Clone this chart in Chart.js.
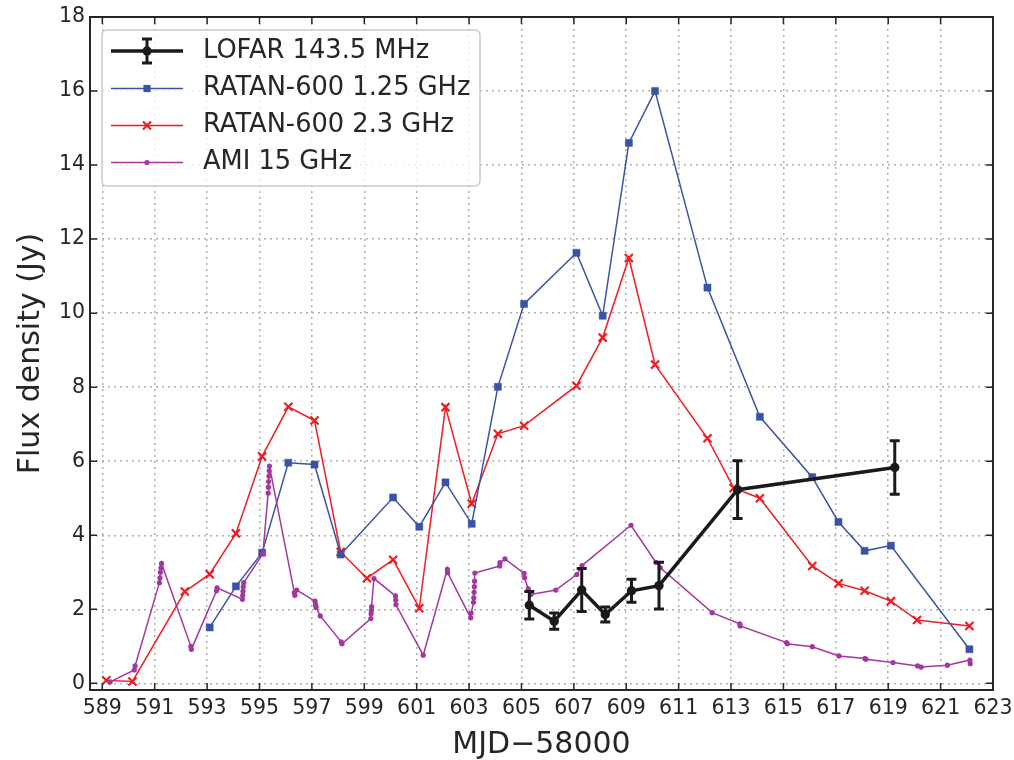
<!DOCTYPE html>
<html>
<head>
<meta charset="utf-8">
<script src="https://cdn.jsdelivr.net/npm/chart.js@4.4.0/dist/chart.umd.min.js"></script>
<style>
  body { margin: 0; background: #fff; }
  canvas { display: block; }
</style>
</head>
<body>
<canvas id="fluxChart" width="1014" height="760"></canvas>
<script>
// LOFAR 143.5 MHz (with errors)
let lofarDays = [605.3, 606.25, 607.3, 608.2, 609.2, 610.25, 613.25, 619.25];
let lofarFlux = [2.11, 1.68, 2.52, 1.86, 2.50, 2.64, 5.23, 5.83];
let lofarErr  = [0.37, 0.22, 0.58, 0.20, 0.31, 0.63, 0.78, 0.72];

// RATAN-600 1.25 GHz
let ratan1Days = [593.1, 594.1, 595.1, 596.1, 597.1, 598.1, 600.1, 601.1, 602.1, 603.1, 604.1, 605.1,
                  607.1, 608.1, 609.1, 610.1, 612.1, 614.1, 616.1, 617.1, 618.1, 619.1, 622.1];
let ratan1Flux = [1.51, 2.62, 3.53, 5.96, 5.91, 3.48, 5.02, 4.23, 5.43, 4.31, 8.01, 10.25,
                  11.63, 9.93, 14.6, 16.0, 10.69, 7.2, 5.57, 4.36, 3.58, 3.72, 0.92];

// RATAN-600 2.3 GHz
let ratan2Days = [589.15, 590.15, 592.15, 593.1, 594.1, 595.1, 596.1, 597.1, 598.1, 599.1, 600.1, 601.1,
                  602.1, 603.1, 604.1, 605.1, 607.1, 608.1, 609.1, 610.1, 612.1, 613.1, 614.1, 616.1,
                  617.1, 618.1, 619.1, 620.1, 622.1];
let ratan2Flux = [0.08, 0.05, 2.48, 2.95, 4.05, 6.13, 7.47, 7.10, 3.55, 2.84, 3.34, 2.03,
                  7.46, 4.85, 6.74, 6.96, 8.04, 9.34, 11.49, 8.61, 6.62, 5.28, 5.0, 3.17,
                  2.70, 2.50, 2.22, 1.71, 1.55];

// AMI 15 GHz
let amiDays = [589.3, 590.22, 590.25,
               591.18, 591.2, 591.22, 591.24, 591.26,
               592.38, 592.4,
               593.36, 593.38,
               594.35, 594.36, 594.37, 594.38, 594.4,
               595.13,
               595.33, 595.34, 595.35, 595.36, 595.37, 595.38,
               596.33, 596.35, 596.42,
               597.12, 597.14, 597.16, 597.32,
               598.12, 598.15,
               599.25, 599.26, 599.27, 599.28, 599.37,
               600.19, 600.2, 600.21,
               601.25,
               602.17, 602.18,
               603.06, 603.08, 603.17, 603.18, 603.19, 603.2, 603.21, 603.22,
               604.17, 604.18, 604.37,
               605.1, 605.12, 605.26, 605.36,
               606.31,
               607.11, 607.31,
               609.18,
               610.13, 610.3,
               612.28,
               613.33, 613.35,
               615.12, 615.15,
               616.1,
               617.12,
               618.11, 618.15,
               619.18,
               620.12, 620.26,
               621.26,
               622.12, 622.13];
let amiFlux = [0.04, 0.36, 0.47,
               2.72, 2.85, 3.0, 3.12, 3.24,
               1.0, 0.92,
               2.50, 2.58,
               2.27, 2.38, 2.49, 2.61, 2.72,
               3.5,
               5.14, 5.3, 5.45, 5.6, 5.74, 5.87,
               2.45, 2.38, 2.52,
               2.22, 2.12, 2.05, 1.82,
               1.12, 1.07,
               1.75, 1.88, 1.97, 2.07, 2.83,
               2.36, 2.25, 2.13,
               0.76,
               3.08, 2.99,
               1.77, 1.9, 2.19, 2.31, 2.46, 2.61, 2.76, 2.98,
               3.17, 3.26, 3.36,
               2.97, 2.85, 2.55, 2.40,
               2.52,
               2.94, 3.18,
               4.27,
               3.27, 3.12,
               1.91,
               1.61, 1.55,
               1.10, 1.07,
               0.99,
               0.74,
               0.67, 0.65,
               0.56,
               0.47, 0.44,
               0.49,
               0.63, 0.53];

let xTicks = [589, 591, 593, 595, 597, 599, 601, 603, 605, 607, 609, 611, 613, 615, 617, 619, 621, 623];
let yTicks = [0, 2, 4, 6, 8, 10, 12, 14, 16, 18];

let lofarColor = "#1a1a1a";
let ratan1Color = "#3a53a4";
let ratan2Color = "#ee1d23";
let amiColor = "#a4379f";
let textColor = "#262626";
let fontName = "'DejaVu Sans', sans-serif";

function toPoints(xs, ys) {
    let pts = [];
    for (let i = 0; i < xs.length; i++) {
        pts.push({ x: xs[i], y: ys[i] });
    }
    return pts;
}

// error bars for the LOFAR points
const errorBars = {
    id: "errorBars",
    afterDatasetsDraw(chart) {
        let ctx = chart.ctx;
        let xs = chart.scales.x, ys = chart.scales.y;
        ctx.save();
        ctx.strokeStyle = lofarColor;
        ctx.lineWidth = 3;
        for (let i = 0; i < lofarDays.length; i++) {
            let px = xs.getPixelForValue(lofarDays[i]);
            let top = ys.getPixelForValue(lofarFlux[i] + lofarErr[i]);
            let bot = ys.getPixelForValue(lofarFlux[i] - lofarErr[i]);
            ctx.beginPath();
            ctx.moveTo(px, top); ctx.lineTo(px, bot);
            ctx.moveTo(px - 5, top); ctx.lineTo(px + 5, top);
            ctx.moveTo(px - 5, bot); ctx.lineTo(px + 5, bot);
            ctx.stroke();
        }
        ctx.restore();
    }
};

// spines + inward ticks on all four sides
const frame = {
    id: "frame",
    afterDatasetsDraw(chart) {
        let ctx = chart.ctx;
        let a = chart.chartArea;
        let xs = chart.scales.x, ys = chart.scales.y;
        ctx.save();
        ctx.strokeStyle = textColor;
        ctx.lineWidth = 1.5;
        ctx.beginPath();
        xTicks.forEach(function (v) {
            let px = xs.getPixelForValue(v);
            ctx.moveTo(px, a.bottom); ctx.lineTo(px, a.bottom - 7);
            ctx.moveTo(px, a.top); ctx.lineTo(px, a.top + 7);
        });
        yTicks.forEach(function (v) {
            let py = ys.getPixelForValue(v);
            ctx.moveTo(a.left, py); ctx.lineTo(a.left + 7, py);
            ctx.moveTo(a.right, py); ctx.lineTo(a.right - 7, py);
        });
        ctx.stroke();
        ctx.lineWidth = 2;
        ctx.strokeRect(a.left, a.top, a.right - a.left, a.bottom - a.top);
        ctx.restore();
    }
};

// matplotlib style legend box in the upper left
const boxLegend = {
    id: "boxLegend",
    afterDraw(chart) {
        let ctx = chart.ctx;
        let bx = 102, by = 30, bw = 378, bh = 156;
        ctx.save();
        ctx.beginPath();
        ctx.roundRect(bx, by, bw, bh, 5);
        ctx.fillStyle = "rgba(255,255,255,0.8)";
        ctx.fill();
        ctx.strokeStyle = "#cccccc";
        ctx.lineWidth = 1.5;
        ctx.stroke();

        let x0 = 111, x1 = 183, xm = 147, tx = 203;
        let rows = [51, 88.5, 125.5, 162.5];
        let labels = chart.data.datasets.map(function (d) { return d.label; });

        // LOFAR entry
        ctx.strokeStyle = lofarColor;
        ctx.lineWidth = 3.5;
        ctx.beginPath();
        ctx.moveTo(x0, rows[0]); ctx.lineTo(x1, rows[0]);
        ctx.stroke();
        ctx.lineWidth = 3;
        ctx.beginPath();
        ctx.moveTo(xm, rows[0] - 12); ctx.lineTo(xm, rows[0] + 12);
        ctx.moveTo(xm - 5, rows[0] - 12); ctx.lineTo(xm + 5, rows[0] - 12);
        ctx.moveTo(xm - 5, rows[0] + 12); ctx.lineTo(xm + 5, rows[0] + 12);
        ctx.stroke();
        ctx.fillStyle = lofarColor;
        ctx.beginPath();
        ctx.arc(xm, rows[0], 4.7, 0, Math.PI * 2);
        ctx.fill();

        // RATAN 1.25
        ctx.strokeStyle = ratan1Color;
        ctx.lineWidth = 1.5;
        ctx.beginPath();
        ctx.moveTo(x0, rows[1]); ctx.lineTo(x1, rows[1]);
        ctx.stroke();
        ctx.fillStyle = ratan1Color;
        ctx.fillRect(xm - 3.6, rows[1] - 3.6, 7.2, 7.2);

        // RATAN 2.3
        ctx.strokeStyle = ratan2Color;
        ctx.beginPath();
        ctx.moveTo(x0, rows[2]); ctx.lineTo(x1, rows[2]);
        ctx.stroke();
        ctx.lineWidth = 2.2;
        ctx.beginPath();
        ctx.moveTo(xm - 4, rows[2] - 4); ctx.lineTo(xm + 4, rows[2] + 4);
        ctx.moveTo(xm - 4, rows[2] + 4); ctx.lineTo(xm + 4, rows[2] - 4);
        ctx.stroke();

        // AMI
        ctx.strokeStyle = amiColor;
        ctx.lineWidth = 1.5;
        ctx.beginPath();
        ctx.moveTo(x0, rows[3]); ctx.lineTo(x1, rows[3]);
        ctx.stroke();
        ctx.fillStyle = amiColor;
        ctx.beginPath();
        ctx.arc(xm, rows[3], 2.6, 0, Math.PI * 2);
        ctx.fill();

        ctx.fillStyle = textColor;
        ctx.font = "25.7px " + fontName;
        ctx.textBaseline = "middle";
        ctx.textAlign = "left";
        for (let i = 0; i < labels.length; i++) {
            ctx.fillText(labels[i], tx, rows[i]);
        }
        ctx.restore();
    }
};

let fluxChart = new Chart("fluxChart", {
    type: "line",
    data: {
        datasets: [
            {
                label: "LOFAR 143.5 MHz",
                data: toPoints(lofarDays, lofarFlux),
                borderColor: lofarColor,
                backgroundColor: lofarColor,
                borderWidth: 3.5,
                pointRadius: 4.7,
                pointBorderWidth: 0,
                order: 0
            },
            {
                label: "RATAN-600 1.25 GHz",
                data: toPoints(ratan1Days, ratan1Flux),
                borderColor: ratan1Color,
                backgroundColor: ratan1Color,
                borderWidth: 1.5,
                pointStyle: "rect",
                pointRadius: 5,
                pointBorderWidth: 0.5,
                order: 2
            },
            {
                label: "RATAN-600 2.3 GHz",
                data: toPoints(ratan2Days, ratan2Flux),
                borderColor: ratan2Color,
                backgroundColor: ratan2Color,
                borderWidth: 1.5,
                pointStyle: "crossRot",
                pointRadius: 5.7,
                pointBorderWidth: 2.2,
                order: 3
            },
            {
                label: "AMI 15 GHz",
                data: toPoints(amiDays, amiFlux),
                borderColor: amiColor,
                backgroundColor: amiColor,
                borderWidth: 1.5,
                pointRadius: 2.6,
                pointBorderWidth: 0,
                order: 1
            }
        ]
    },
    options: {
        responsive: false,
        animation: false,
        devicePixelRatio: 1,
        layout: { padding: { top: 17, right: 21, left: 0, bottom: 0 } },
        elements: { line: { tension: 0 } },
        plugins: {
            legend: { display: false },
            tooltip: { enabled: false }
        },
        scales: {
            x: {
                type: "linear",
                min: 588.53,
                max: 623,
                afterBuildTicks: function (s) { s.ticks = xTicks.map(function (v) { return { value: v }; }); },
                afterFit: function (s) { s.height = 70; s.paddingLeft = 0; s.paddingRight = 0; },
                grid: { color: "#b0b0b0", lineWidth: 1.5, drawTicks: false },
                border: { display: false, dash: [2, 4] },
                ticks: {
                    color: textColor,
                    font: { family: fontName, size: 20.5 },
                    padding: 6,
                    maxRotation: 0,
                    autoSkip: false,
                    callback: function (v) { return String(v); }
                },
                title: {
                    display: true,
                    text: "MJD\u221258000",
                    color: textColor,
                    font: { family: fontName, size: 30, lineHeight: 1 },
                    padding: { top: 0, bottom: 0 }
                }
            },
            y: {
                min: -0.18,
                max: 18,
                afterBuildTicks: function (s) { s.ticks = yTicks.map(function (v) { return { value: v }; }); },
                afterFit: function (s) { s.width = 90; s.paddingTop = 0; s.paddingBottom = 0; },
                grid: { color: "#b0b0b0", lineWidth: 1.5, drawTicks: false },
                border: { display: false, dash: [2, 4] },
                ticks: {
                    color: textColor,
                    font: { family: fontName, size: 20.5 },
                    padding: 5
                },
                title: {
                    display: true,
                    text: "Flux density (Jy)",
                    color: textColor,
                    font: { family: fontName, size: 30, lineHeight: 1 },
                    padding: { top: 16, bottom: 0 }
                }
            }
        }
    },
    plugins: [errorBars, frame, boxLegend]
});
</script>
</body>
</html>
